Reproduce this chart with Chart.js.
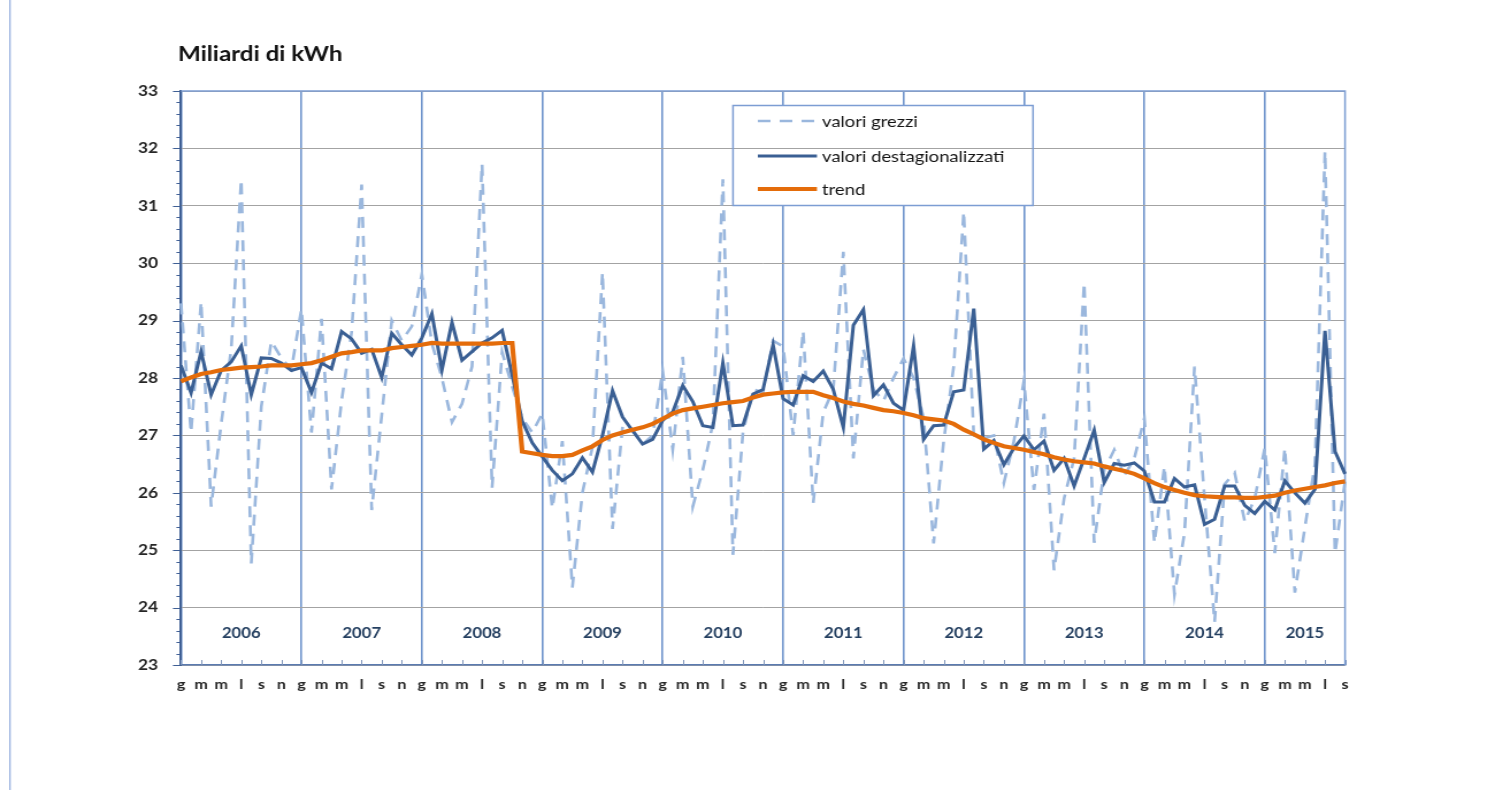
<!DOCTYPE html>
<html>
<head>
<meta charset="utf-8">
<script src="https://cdn.jsdelivr.net/npm/chart.js@4.4.1/dist/chart.umd.min.js"></script>
<style>
  html, body { margin: 0; padding: 0; background: #fff; overflow: hidden; }
  /* the reference is a horizontally stretched Excel picture */
  #wrap { width: 1293px; height: 790px; transform: scaleX(1.15); transform-origin: 0 0; }
</style>
</head>
<body>
<div id="wrap"><canvas id="consumi" width="1293" height="790"></canvas></div>
<script>
// month initials (gennaio ... dicembre), Jan 2006 - Sep 2015
var monthInitials = ['g', 'f', 'm', 'a', 'm', 'g', 'l', 'a', 's', 'o', 'n', 'd'];
var years = ['2006', '2007', '2008', '2009', '2010', '2011', '2012', '2013', '2014', '2015'];

var rawValues = [
  29.3, 27.05, 29.33, 25.76, 27.2, 28.5, 31.46, 24.77, 27.5, 28.64, 28.35, 28.15,
  29.2, 27.05, 29.03, 26.06, 27.6, 28.8, 31.37, 25.7, 27.35, 29.0, 28.65, 28.9,
  29.81, 28.6, 28.0, 27.23, 27.55, 28.2, 31.73, 26.09, 28.45, 27.85, 27.3, 27.05,
  27.38, 25.73, 26.9, 24.35, 26.0, 26.8, 29.84, 25.37, 27.15, 27.1, 26.85, 27.0,
  28.13, 26.75, 28.37, 25.76, 26.4, 27.2, 31.46, 24.92, 27.05, 27.8, 27.75, 28.65,
  28.55, 27.0, 28.82, 25.82, 27.4, 27.8, 30.2, 26.6, 28.5, 27.8, 27.6, 28.0,
  28.34, 28.0, 27.3, 25.12, 26.9, 28.2, 30.9, 27.0, 26.95, 27.0, 26.17, 26.9,
  27.95, 26.05, 27.38, 24.65, 25.9, 26.6, 29.66, 25.13, 26.4, 26.75, 26.3, 26.6,
  27.3, 25.13, 26.46, 24.23, 25.3, 28.2, 25.9, 23.75, 26.15, 26.35, 25.5, 25.9,
  26.78, 24.95, 26.78, 24.26, 25.4, 26.5, 31.95, 24.95, 26.2
];

var adjustedValues = [
  28.22, 27.74, 28.46, 27.71, 28.13, 28.28, 28.56, 27.71, 28.35, 28.34, 28.26, 28.13,
  28.18, 27.75, 28.26, 28.16, 28.81, 28.68, 28.43, 28.5, 28.01, 28.78, 28.58, 28.4,
  28.7, 29.12, 28.14, 28.97, 28.31, 28.46, 28.61, 28.7, 28.83, 28.05, 27.25, 26.87,
  26.63, 26.39, 26.21, 26.33, 26.61, 26.36, 27.0, 27.78, 27.32, 27.08, 26.85, 26.93,
  27.26, 27.41, 27.87, 27.59, 27.17, 27.14, 28.26, 27.17, 27.18, 27.72, 27.8, 28.58,
  27.64, 27.53, 28.04, 27.94, 28.12, 27.8, 27.14, 28.92, 29.19, 27.69, 27.88, 27.56,
  27.44, 28.56, 26.93, 27.17, 27.18, 27.76, 27.79, 29.21, 26.76, 26.91, 26.49, 26.78,
  26.99, 26.75, 26.9, 26.39, 26.6, 26.12, 26.6, 27.09, 26.18, 26.51, 26.48, 26.52,
  26.38, 25.84, 25.84, 26.25, 26.1, 26.14, 25.45, 25.54, 26.12, 26.12, 25.78, 25.64,
  25.85, 25.7, 26.21, 26.0, 25.82, 26.06, 28.82, 26.72, 26.33
];

var trendValues = [
  27.94, 28.01, 28.07, 28.1, 28.14, 28.16, 28.18, 28.19, 28.2, 28.22, 28.22, 28.22,
  28.24, 28.26, 28.31, 28.37, 28.43, 28.45, 28.48, 28.48, 28.48, 28.52, 28.54, 28.56,
  28.58, 28.61, 28.6, 28.6, 28.6, 28.6, 28.6, 28.6, 28.61, 28.61, 26.72, 26.69,
  26.66, 26.64, 26.64, 26.66, 26.74, 26.81, 26.92, 27.0, 27.05, 27.1, 27.14, 27.2,
  27.29, 27.38, 27.44, 27.47, 27.5, 27.53, 27.56, 27.58, 27.6, 27.66, 27.71, 27.73,
  27.75, 27.76, 27.76, 27.76, 27.7, 27.65, 27.59, 27.55, 27.52, 27.48, 27.44, 27.42,
  27.39, 27.35, 27.3, 27.28, 27.26, 27.2, 27.1, 27.02, 26.93, 26.87, 26.81, 26.78,
  26.75, 26.71, 26.67, 26.62, 26.58, 26.55, 26.53, 26.51, 26.46, 26.42, 26.38, 26.33,
  26.25, 26.17, 26.1, 26.05, 26.0, 25.96, 25.94, 25.93, 25.92, 25.92, 25.91, 25.91,
  25.93, 25.95, 26.0, 26.04, 26.07, 26.1, 26.13, 26.17, 26.2
];

var monthLabels = rawValues.map(function (v, i) { return monthInitials[i % 12]; });

var FONT = 'Lato, "Liberation Sans", sans-serif';
var yearLineColor = '#6f94cc';

// extra drawing: ticks, plot border, year labels, legend, title
var decorations = {
    id: 'decorations',
    beforeDatasetsDraw: function (chart) {
        var ctx = chart.ctx, a = chart.chartArea, x = chart.scales.x, y = chart.scales.y;
        ctx.save();

        // small ticks on the x axis, every two months
        ctx.strokeStyle = '#8096ba';
        ctx.lineWidth = 1;
        for (var i = 0; i < monthLabels.length; i += 2) {
            var px = Math.round(x.getPixelForValue(i)) + 0.5;
            ctx.beginPath();
            ctx.moveTo(px, a.bottom);
            ctx.lineTo(px, a.bottom - 5);
            ctx.stroke();
        }

        // major and minor ticks outside the y axis
        ctx.strokeStyle = '#3f5f94';
        for (var k = 0; k <= 50; k++) {
            var py = Math.round(y.getPixelForValue(23 + k * 0.2)) + 0.5;
            ctx.beginPath();
            ctx.moveTo(a.left - (k % 5 === 0 ? 7 : 4), py);
            ctx.lineTo(a.left, py);
            ctx.stroke();
        }

        // top and right edges of the plot area
        ctx.strokeStyle = '#7c9dd3';
        ctx.lineWidth = 1.5;
        ctx.beginPath();
        ctx.moveTo(a.left, a.top);
        ctx.lineTo(a.right, a.top);
        ctx.lineTo(a.right, a.bottom);
        ctx.stroke();

        // legend box (white, with the gridline crossing it)
        var bx = 637.4, by = 105.5, bw = 260.9, bh = 100;
        ctx.fillStyle = '#ffffff';
        ctx.fillRect(bx, by, bw, bh);
        ctx.strokeStyle = '#a3a3a3';
        ctx.lineWidth = 1;
        var g = Math.round(y.getPixelForValue(32)) + 0.5;
        ctx.beginPath();
        ctx.moveTo(bx, g);
        ctx.lineTo(bx + bw, g);
        ctx.stroke();
        ctx.strokeStyle = '#7c9dd3';
        ctx.lineWidth = 1.5;
        ctx.strokeRect(bx, by, bw, bh);

        var rowsY = [121, 156, 189];
        ctx.font = '16px ' + FONT;
        ctx.textBaseline = 'middle';
        ctx.textAlign = 'left';
        chart.data.datasets.forEach(function (ds, n) {
            ctx.strokeStyle = ds.borderColor;
            ctx.lineWidth = ds.borderWidth;
            ctx.setLineDash(ds.borderDash || []);
            ctx.beginPath();
            ctx.moveTo(659, rowsY[n]);
            ctx.lineTo(710.4, rowsY[n]);
            ctx.stroke();
            ctx.setLineDash([]);
            ctx.fillStyle = '#141414';
            ctx.fillText(ds.label, 714.8, rowsY[n] + 1);
        });
        ctx.restore();
    },
    afterDatasetsDraw: function (chart) {
        var ctx = chart.ctx, x = chart.scales.x;
        var last = monthLabels.length - 1;
        ctx.save();

        // year names inside the plot
        ctx.font = 'bold 14.5px ' + FONT;
        ctx.fillStyle = '#243f60';
        ctx.textAlign = 'center';
        ctx.textBaseline = 'middle';
        years.forEach(function (yr, k) {
            var x0 = x.getPixelForValue(k * 12);
            var x1 = x.getPixelForValue(Math.min(k * 12 + 12, last));
            ctx.fillText(yr, (x0 + x1) / 2, 633);
        });

        // title
        ctx.font = 'bold 21px ' + FONT;
        ctx.fillStyle = '#111111';
        ctx.textAlign = 'left';
        ctx.textBaseline = 'alphabetic';
        ctx.fillText('Miliardi di kWh', 154.8, 61);

        // outer frame, left edge
        ctx.strokeStyle = '#8faadc';
        ctx.lineWidth = 1.2;
        ctx.beginPath();
        ctx.moveTo(8.7, 0);
        ctx.lineTo(8.7, 790);
        ctx.stroke();
        ctx.restore();
    }
};

var ctx = document.getElementById('consumi').getContext('2d');
var consumiChart = new Chart(ctx, {
    type: 'line',
    data: {
        labels: monthLabels,
        datasets: [{
            label: 'valori grezzi',
            data: rawValues,
            borderColor: '#9ab7dd',
            borderWidth: 2.6,
            borderDash: [11, 8],
            pointRadius: 0,
            tension: 0,
            order: 3
        }, {
            label: 'valori destagionalizzati',
            data: adjustedValues,
            borderColor: '#3a5f93',
            borderWidth: 3,
            pointRadius: 0,
            tension: 0,
            order: 2
        }, {
            label: 'trend',
            data: trendValues,
            borderColor: '#e46c0a',
            borderWidth: 4.2,
            pointRadius: 0,
            tension: 0,
            order: 1
        }]
    },
    options: {
        responsive: false,
        animation: false,
        layout: {
            padding: { left: 0, right: 123.4, top: 91, bottom: 85 }
        },
        plugins: {
            legend: { display: false },
            tooltip: { enabled: false }
        },
        scales: {
            x: {
                type: 'category',
                offset: false,
                afterFit: function (scale) { scale.height = 40; },
                grid: {
                    color: function (c) { return c.index % 12 === 0 ? yearLineColor : 'rgba(0,0,0,0)'; },
                    lineWidth: 1.6,
                    drawTicks: false
                },
                border: { color: '#5b7bb0', width: 1.5 },
                ticks: {
                    autoSkip: false,
                    maxRotation: 0,
                    minRotation: 0,
                    padding: 11,
                    color: '#262626',
                    font: { family: FONT, weight: 'bold', size: 14 },
                    callback: function (v, i) { return i % 2 === 0 ? monthLabels[i] : ''; }
                }
            },
            y: {
                min: 23,
                max: 33,
                afterFit: function (scale) { scale.width = 157.4; },
                grid: { color: '#a3a3a3', lineWidth: 1, drawTicks: false },
                border: { color: '#3f5f94', width: 2 },
                ticks: {
                    stepSize: 1,
                    padding: 20,
                    color: '#262626',
                    font: { family: FONT, weight: 'bold', size: 15 }
                }
            }
        }
    },
    plugins: [decorations]
});
</script>
</body>
</html>
